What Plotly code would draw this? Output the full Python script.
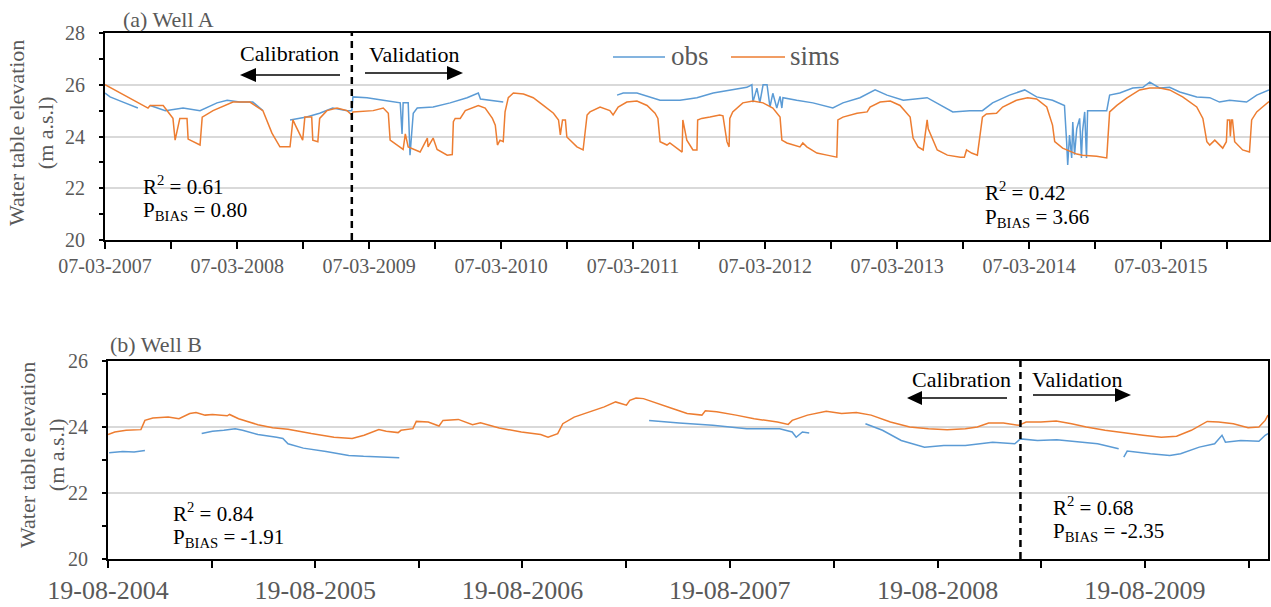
import plotly.graph_objects as go

W, H = 1271, 607

# ---------------- Well A ----------------
a_sims_dates = [
    "2007-03-07", "2007-07-04", "2007-07-10", "2007-08-15", "2007-09-03", "2007-09-11", "2007-09-17",
    "2007-09-22", "2007-09-30", "2007-10-20", "2007-10-23", "2007-11-25", "2007-12-01", "2007-12-31",
    "2008-02-24", "2008-04-11", "2008-05-17", "2008-06-11", "2008-07-03", "2008-07-31", "2008-08-08",
    "2008-08-16", "2008-08-27", "2008-09-04", "2008-09-10", "2008-09-29", "2008-10-02", "2008-10-16",
    "2008-10-21", "2008-11-10", "2008-12-08", "2009-01-05", "2009-01-18", "2009-01-21", "2009-03-18",
    "2009-04-15", "2009-04-29", "2009-05-04", "2009-06-09", "2009-06-15", "2009-06-23", "2009-07-26",
    "2009-08-15", "2009-08-17", "2009-08-31", "2009-09-11", "2009-10-09", "2009-10-23", "2009-10-26",
    "2009-10-31", "2009-11-14", "2009-11-28", "2010-01-03", "2010-01-22", "2010-02-11", "2010-02-19",
    "2010-02-25", "2010-03-04", "2010-03-13", "2010-03-18", "2010-03-27", "2010-04-10", "2010-05-08",
    "2010-06-04", "2010-07-02", "2010-07-30", "2010-08-13", "2010-08-18", "2010-08-24", "2010-09-01",
    "2010-09-05", "2010-09-19", "2010-10-03", "2010-10-20", "2010-10-31", "2010-11-08", "2010-12-06",
    "2011-01-02", "2011-01-11", "2011-01-25", "2011-02-18", "2011-03-18", "2011-04-15", "2011-05-07",
    "2011-05-15", "2011-05-21", "2011-06-09", "2011-06-17", "2011-07-07", "2011-07-21", "2011-07-23",
    "2011-08-03", "2011-08-20", "2011-08-31", "2011-09-02", "2011-09-13", "2011-10-06", "2011-11-02",
    "2011-11-11", "2011-11-22", "2011-11-28", "2011-11-30", "2011-12-08", "2012-01-05", "2012-02-02",
    "2012-03-01", "2012-03-28", "2012-04-17", "2012-04-22", "2012-05-06", "2012-06-11", "2012-06-19",
    "2012-06-30", "2012-07-28", "2012-08-25", "2012-09-21", "2012-09-24", "2012-10-08", "2012-11-16",
    "2012-12-14", "2012-12-22", "2013-01-19", "2013-02-16", "2013-03-15", "2013-04-12", "2013-04-20",
    "2013-05-04", "2013-05-18", "2013-05-29", "2013-06-01", "2013-06-26", "2013-07-24", "2013-08-29",
    "2013-09-09", "2013-09-15", "2013-09-29", "2013-10-15", "2013-10-21", "2013-10-29", "2013-11-09",
    "2013-12-07", "2013-12-24", "2014-01-31", "2014-03-03", "2014-03-28", "2014-04-25", "2014-05-11",
    "2014-05-17", "2014-06-08", "2014-07-17", "2014-08-02", "2014-09-10", "2014-10-08", "2014-10-11",
    "2014-10-16", "2014-11-05", "2014-12-02", "2015-01-07", "2015-02-04", "2015-03-04", "2015-03-31",
    "2015-05-06", "2015-06-14", "2015-07-01", "2015-07-12", "2015-07-20", "2015-08-03", "2015-08-25",
    "2015-09-04", "2015-09-07", "2015-09-13", "2015-09-15", "2015-09-18", "2015-09-21", "2015-09-27",
    "2015-10-19", "2015-11-07", "2015-11-13", "2015-11-27", "2015-12-13", "2015-12-31",
]
a_sims_vals = [
    26.00, 25.10, 25.20, 25.20, 24.85, 24.70, 23.86,
    24.20, 24.70, 24.70, 23.90, 23.67, 24.75, 25.00,
    25.33, 25.33, 25.00, 24.13, 23.60, 23.60, 24.64,
    24.40, 24.10, 23.86, 24.75, 24.75, 23.86, 23.80,
    24.70, 25.00, 25.10, 25.00, 24.83, 24.95, 25.00,
    25.10, 24.90, 23.86, 23.50, 24.10, 23.60, 23.40,
    23.94, 23.60, 23.94, 23.50, 23.28, 23.30, 24.57,
    24.70, 24.70, 25.00, 25.20, 25.10, 24.70, 24.44,
    23.67, 23.86, 23.80, 24.95, 25.50, 25.68, 25.64,
    25.50, 25.20, 24.90, 24.64, 24.06, 24.64, 24.64,
    23.98, 23.80, 23.60, 23.48, 24.83, 24.95, 25.14,
    25.00, 24.83, 25.14, 25.33, 25.37, 25.20, 24.90,
    24.70, 23.80, 23.67, 23.75, 23.55, 23.40, 24.64,
    23.86, 23.48, 23.48, 24.64, 24.70, 24.75, 24.83,
    24.80, 23.80, 23.60, 24.70, 24.95, 25.30, 25.37,
    25.30, 25.10, 24.75, 23.86, 23.75, 23.60, 23.75,
    23.60, 23.36, 23.28, 23.20, 24.64, 24.75, 24.90,
    24.95, 25.14, 25.33, 25.37, 25.20, 24.75, 23.94,
    23.60, 23.48, 24.64, 24.30, 23.48, 23.28, 23.20,
    23.20, 23.48, 23.36, 23.28, 23.86, 24.75, 24.87,
    24.90, 25.14, 25.40, 25.50, 25.45, 25.14, 24.44,
    23.80, 23.55, 23.32, 23.28, 23.24, 23.17, 23.86,
    24.95, 25.20, 25.48, 25.80, 25.87, 25.87, 25.80,
    25.53, 25.14, 24.70, 23.80, 23.67, 23.86, 23.55,
    23.80, 24.64, 24.64, 24.00, 24.64, 24.64, 23.80,
    23.48, 23.40, 24.64, 24.95, 25.14, 25.35,
]

a_obs_dates = [
    "2007-03-07", "2007-03-21", "2007-04-26", "2007-06-06", "2007-06-20",
    "2007-07-10", "2007-08-21", "2007-10-09", "2007-11-25", "2008-01-11", "2008-02-08", "2008-03-14",
    "2008-04-19", "2008-05-17", "2008-06-20",
    "2008-07-31", "2008-09-15", "2008-10-21", "2008-11-26", "2009-01-05", "2009-01-18", "2009-01-21",
    "2009-03-01", "2009-04-15", "2009-06-01", "2009-06-06", "2009-06-09", "2009-06-23", "2009-06-28",
    "2009-07-07", "2009-07-18", "2009-08-31", "2009-10-17", "2009-12-03", "2010-01-03", "2010-01-09",
    "2010-02-05", "2010-03-13", "2010-08-01",
    "2011-01-22", "2011-02-08", "2011-03-18", "2011-04-15", "2011-05-12", "2011-05-21", "2011-07-15",
    "2011-08-31", "2011-10-15", "2011-12-01", "2012-01-16", "2012-01-30", "2012-02-02", "2012-02-13",
    "2012-02-21", "2012-03-01", "2012-03-12", "2012-03-20", "2012-03-28", "2012-04-08", "2012-04-17",
    "2012-04-22", "2012-04-25", "2012-06-02", "2012-07-17", "2012-09-10", "2012-10-08", "2012-11-24",
    "2013-01-05", "2013-02-07", "2013-03-24", "2013-05-29", "2013-07-13", "2013-08-08", "2013-09-24",
    "2013-10-29", "2013-11-26", "2014-01-12", "2014-02-23", "2014-03-28", "2014-05-11", "2014-06-13",
    "2014-06-19", "2014-06-22", "2014-06-27", "2014-07-03", "2014-07-06", "2014-07-11", "2014-07-17",
    "2014-07-25", "2014-07-30", "2014-08-02", "2014-08-08", "2014-08-13", "2014-08-16", "2014-09-27",
    "2014-10-08", "2014-10-16", "2014-11-13", "2014-12-19", "2015-01-16", "2015-02-04", "2015-03-04",
    "2015-03-31", "2015-04-28", "2015-06-14", "2015-07-20", "2015-08-16", "2015-09-13", "2015-10-30",
    "2015-11-27", "2015-12-31",
]
a_obs_vals = [
    25.68, 25.53, 25.33, 25.10, None,
    25.20, 25.00, 25.10, 25.00, 25.30, 25.40, 25.33,
    25.33, 25.00, None,
    24.64, 24.75, 24.90, 25.10, 25.00, 25.00, 25.53,
    25.50, 25.40, 25.30, 24.10, 25.30, 25.30, 23.28,
    24.90, 25.10, 25.14, 25.30, 25.50, 25.68, 25.45,
    25.40, 25.33, None,
    25.60, 25.68, 25.68, 25.57, 25.45, 25.40, 25.40,
    25.50, 25.68, 25.80, 25.90, 26.00, 25.33, 25.87,
    25.30, 26.00, 26.00, 25.14, 25.67, 25.10, 25.55,
    25.10, 25.50, 25.40, 25.30, 25.10, 25.30, 25.50,
    25.80, 25.60, 25.40, 25.50, 25.14, 24.95, 25.00,
    25.00, 25.30, 25.60, 25.80, 25.53, 25.40, 25.20,
    23.80, 22.90, 24.06, 23.17, 24.56, 23.30, 24.30,
    24.70, 23.17, 24.20, 24.95, 23.17, 25.00, 25.00,
    25.00, 25.60, 25.68, 25.87, 25.90, 26.10, 25.87,
    25.90, 25.72, 25.53, 25.50, 25.33, 25.40, 25.33,
    25.60, 25.80,
]

# ---------------- Well B ----------------
b_sims_dates = [
    "2004-08-19", "2004-08-31", "2004-09-20", "2004-10-16", "2004-10-23", "2004-11-06", "2004-12-03",
    "2004-12-22", "2005-01-10", "2005-01-21", "2005-02-06", "2005-02-19", "2005-03-17", "2005-03-21",
    "2005-04-06", "2005-05-10", "2005-06-05", "2005-07-02", "2005-08-12", "2005-09-21", "2005-10-23",
    "2005-11-13", "2005-12-09", "2005-12-22", "2006-01-12", "2006-01-17", "2006-02-07", "2006-02-13",
    "2006-03-06", "2006-03-25", "2006-04-01", "2006-04-28", "2006-05-23", "2006-06-06", "2006-07-09",
    "2006-08-17", "2006-09-20", "2006-10-03", "2006-10-20", "2006-10-29", "2006-11-18", "2006-12-08",
    "2006-12-22", "2007-01-10", "2007-01-30", "2007-02-18", "2007-02-24", "2007-03-07", "2007-03-20",
    "2007-04-13", "2007-05-10", "2007-06-05", "2007-07-01", "2007-07-07", "2007-07-27", "2007-08-30",
    "2007-10-01", "2007-11-11", "2007-11-30", "2007-12-07", "2008-01-03", "2008-02-05", "2008-03-03",
    "2008-03-29", "2008-04-24", "2008-05-28", "2008-07-01", "2008-08-03", "2008-09-05", "2008-10-07",
    "2008-10-28", "2008-11-17", "2008-12-13", "2009-01-09", "2009-01-22", "2009-02-17", "2009-03-16",
    "2009-04-12", "2009-05-08", "2009-06-10", "2009-07-13", "2009-08-16", "2009-09-17", "2009-10-14",
    "2009-11-09", "2009-12-07", "2009-12-27", "2010-01-22", "2010-02-17", "2010-03-08", "2010-03-19",
    "2010-03-24",
]
b_sims_vals = [
    23.77, 23.85, 23.90, 23.92, 24.20, 24.27, 24.30,
    24.25, 24.41, 24.44, 24.36, 24.38, 24.34, 24.38,
    24.25, 24.07, 23.98, 23.93, 23.80, 23.69, 23.65,
    23.75, 23.92, 23.87, 23.83, 23.90, 23.95, 24.17,
    24.15, 24.03, 24.20, 24.23, 24.07, 24.13, 23.97,
    23.85, 23.77, 23.69, 23.80, 24.10, 24.30, 24.41,
    24.51, 24.61, 24.76, 24.66, 24.81, 24.88, 24.86,
    24.71, 24.56, 24.41, 24.36, 24.49, 24.46, 24.36,
    24.25, 24.15, 24.08, 24.20, 24.36, 24.48, 24.41,
    24.44, 24.36, 24.15, 24.00, 23.95, 23.92, 23.95,
    24.00, 24.12, 24.12, 24.05, 24.15, 24.15, 24.18,
    24.10, 24.00, 23.90, 23.82, 23.75, 23.69, 23.72,
    23.90, 24.17, 24.15, 24.10, 23.98, 24.00, 24.20,
    24.36,
]

b_obs_dates = [
    "2004-08-21", "2004-09-14", "2004-10-04", "2004-10-23", "2004-12-01",
    "2005-01-31", "2005-02-19", "2005-03-11", "2005-03-31", "2005-04-13", "2005-05-10", "2005-06-12",
    "2005-06-23", "2005-07-02", "2005-07-29", "2005-09-07", "2005-10-17", "2005-11-12", "2005-12-16",
    "2006-01-14", "2006-06-01",
    "2007-03-30", "2007-04-26", "2007-05-22", "2007-07-20", "2007-09-18", "2007-11-15", "2007-12-07",
    "2007-12-14", "2007-12-25", "2008-01-06", "2008-03-01",
    "2008-04-14", "2008-05-14", "2008-06-16", "2008-07-27", "2008-08-30", "2008-10-07", "2008-11-24",
    "2009-01-02", "2009-01-12", "2009-02-11", "2009-03-17", "2009-04-24", "2009-05-28", "2009-07-04",
    "2009-07-09",
    "2009-07-13", "2009-07-19", "2009-08-29", "2009-10-02", "2009-10-21", "2009-11-23", "2009-12-20",
    "2010-01-02", "2010-01-08", "2010-02-04", "2010-03-08", "2010-03-19", "2010-03-24",
]
b_obs_vals = [
    23.22, 23.26, 23.24, 23.29, None,
    23.80, 23.87, 23.90, 23.95, 23.90, 23.77, 23.69,
    23.65, 23.49, 23.36, 23.26, 23.14, 23.11, 23.09,
    23.07, None,
    24.20, 24.17, 24.12, 24.05, 23.95, 23.95, 23.85,
    23.69, 23.85, 23.82, None,
    24.10, 23.90, 23.59, 23.39, 23.44, 23.44, 23.54,
    23.49, 23.64, 23.59, 23.61, 23.54, 23.49, 23.34,
    None,
    23.09, 23.27, 23.19, 23.14, 23.19, 23.39, 23.49,
    23.75, 23.54, 23.59, 23.57, 23.75, 23.80,
]

# Axis ticks: a tick every six months, a label every year
a_tick_dates = ["2007-03-07", "2007-09-06", "2008-03-07", "2008-09-06", "2009-03-07", "2009-09-06",
                "2010-03-07", "2010-09-06", "2011-03-07", "2011-09-06", "2012-03-07", "2012-09-06",
                "2013-03-07", "2013-09-06", "2014-03-07", "2014-09-06", "2015-03-07", "2015-09-06"]
a_tick_labels = ["07-03-2007", "", "07-03-2008", "", "07-03-2009", "", "07-03-2010", "",
                 "07-03-2011", "", "07-03-2012", "", "07-03-2013", "", "07-03-2014", "",
                 "07-03-2015", ""]
b_tick_dates = ["2004-08-19", "2005-02-18", "2005-08-19", "2006-02-18", "2006-08-19", "2007-02-18",
                "2007-08-19", "2008-02-18", "2008-08-19", "2009-02-18", "2009-08-19", "2010-02-18"]
b_tick_labels = ["19-08-2004", "", "19-08-2005", "", "19-08-2006", "", "19-08-2007", "",
                 "19-08-2008", "", "19-08-2009", ""]

a_range = ["2007-03-07", "2015-12-31"]
b_range = ["2004-08-19", "2010-03-24"]
a_split = "2009-01-18"
b_split = "2009-01-12"

OBS_COLOR = "#5B9BD5"
SIMS_COLOR = "#ED7D31"
GREY = "#595959"
FONT = "Liberation Serif"


def px(x):
    return x / W


def py(y):
    return 1 - y / H


fig = go.Figure()
fig.add_trace(go.Scatter(x=a_obs_dates, y=a_obs_vals, mode="lines", name="obs",
                         line=dict(color=OBS_COLOR, width=1.5), xaxis="x", yaxis="y"))
fig.add_trace(go.Scatter(x=a_sims_dates, y=a_sims_vals, mode="lines", name="sims",
                         line=dict(color=SIMS_COLOR, width=1.5), xaxis="x", yaxis="y"))
fig.add_trace(go.Scatter(x=b_obs_dates, y=b_obs_vals, mode="lines", name="obs",
                         line=dict(color=OBS_COLOR, width=1.5), xaxis="x2", yaxis="y2"))
fig.add_trace(go.Scatter(x=b_sims_dates, y=b_sims_vals, mode="lines", name="sims",
                         line=dict(color=SIMS_COLOR, width=1.5), xaxis="x2", yaxis="y2"))

axis_common = dict(showline=True, linecolor="black", linewidth=2, mirror=True, automargin=False,
                   ticks="outside", tickcolor="black", tickwidth=2, zeroline=False)

fig.update_layout(
    template="none",
    width=W, height=H, margin=dict(l=0, r=0, t=0, b=0, pad=0),
    paper_bgcolor="white", plot_bgcolor="white", showlegend=False,
    font=dict(family=FONT, color=GREY),
    xaxis=dict(domain=[px(105), px(1269)], anchor="y", type="date", range=a_range,
               tickvals=a_tick_dates, ticktext=a_tick_labels, ticklen=7,
               ticklabelstandoff=0, showgrid=False,
               tickfont=dict(size=20, color=GREY, family=FONT), **axis_common),
    yaxis=dict(domain=[py(240), py(33)], anchor="x", range=[20, 28], dtick=2, ticklen=4,
               ticklabelstandoff=10, showgrid=True, gridcolor="#d9d9d9", gridwidth=2,
               minor=dict(dtick=1, ticks="outside", ticklen=4, tickcolor="black", showgrid=False),
               tickfont=dict(size=20, color=GREY, family=FONT), **axis_common),
    xaxis2=dict(domain=[px(108), px(1268)], anchor="y2", type="date", range=b_range,
                tickvals=b_tick_dates, ticktext=b_tick_labels, ticklen=7,
                ticklabelstandoff=0, showgrid=False,
                tickfont=dict(size=26, color=GREY, family=FONT), **axis_common),
    yaxis2=dict(domain=[py(559), py(361)], anchor="x2", range=[20, 26], dtick=2, ticklen=4,
                ticklabelstandoff=10, showgrid=True, gridcolor="#d9d9d9", gridwidth=2,
                minor=dict(dtick=1, ticks="outside", ticklen=4, tickcolor="black", showgrid=False),
                tickfont=dict(size=20, color=GREY, family=FONT), **axis_common),
)

shapes = []
# calibration / validation split
shapes.append(dict(type="line", xref="x", yref="y domain", x0=a_split, x1=a_split, y0=0, y1=1,
                   line=dict(color="black", width=2.5, dash="7px,5px")))
shapes.append(dict(type="line", xref="x2", yref="y2 domain", x0=b_split, x1=b_split, y0=0, y1=1,
                   line=dict(color="black", width=2.5, dash="7px,5px")))


def arrow(x_tail, x_tip, y, head_len=16, head_half=7):
    d = 1 if x_tip > x_tail else -1
    base = x_tip - d * head_len
    shapes.append(dict(type="line", xref="paper", yref="paper",
                       x0=px(x_tail), x1=px(base), y0=py(y), y1=py(y),
                       line=dict(color="black", width=1.5)))
    path = (f"M {px(x_tip)},{py(y)} L {px(base)},{py(y - head_half)} "
            f"L {px(base)},{py(y + head_half)} Z")
    shapes.append(dict(type="path", xref="paper", yref="paper", path=path,
                       fillcolor="black", line=dict(color="black", width=0)))


arrow(340, 240, 75)
arrow(365, 463, 73)
arrow(1007, 907, 398, head_len=15, head_half=7)
arrow(1033, 1131, 395, head_len=16, head_half=7)

# legend keys
shapes.append(dict(type="line", xref="paper", yref="paper", x0=px(613), x1=px(665),
                   y0=py(57), y1=py(57), line=dict(color=OBS_COLOR, width=1.5)))
shapes.append(dict(type="line", xref="paper", yref="paper", x0=px(731), x1=px(785),
                   y0=py(57), y1=py(57), line=dict(color=SIMS_COLOR, width=1.5)))
fig.update_layout(shapes=shapes)

ann = []


def text(x, y, s, size, color="black", xanchor="left", angle=0):
    ann.append(dict(x=px(x), y=py(y), xref="paper", yref="paper", text=s, showarrow=False,
                    xanchor=xanchor, yanchor="middle", textangle=angle,
                    font=dict(family=FONT, size=size, color=color)))


text(121, 19, "(a) Well A", 22, GREY)
text(108, 344, "(b) Well B", 22, GREY)
text(669, 56, "obs", 27, GREY)
text(788, 56, "sims", 27, GREY)

text(289, 53, "Calibration", 22, xanchor="center")
text(414, 54, "Validation", 22, xanchor="center")
text(961, 379, "Calibration", 22, xanchor="center")
text(1077, 379, "Validation", 22, xanchor="center")

text(141, 185, "R<sup>2</sup> = 0.61", 21)
text(141, 211, "P<sub>BIAS</sub> = 0.80", 21)
text(983, 192, "R<sup>2</sup> = 0.42", 21)
text(983, 218, "P<sub>BIAS</sub> = 3.66", 21)
text(171, 512, "R<sup>2</sup> = 0.84", 21)
text(171, 538, "P<sub>BIAS</sub> = -1.91", 21)
text(1051, 506, "R<sup>2</sup> = 0.68", 21)
text(1051, 532, "P<sub>BIAS</sub> = -2.35", 21)

text(31, 133, "Water table elevation<br>(m a.s.l)", 22, GREY, xanchor="center", angle=-90)
text(42, 455, "Water table elevation<br>(m a.s.l)", 22, GREY, xanchor="center", angle=-90)

fig.update_layout(annotations=ann)
fig.write_html("out.html")
